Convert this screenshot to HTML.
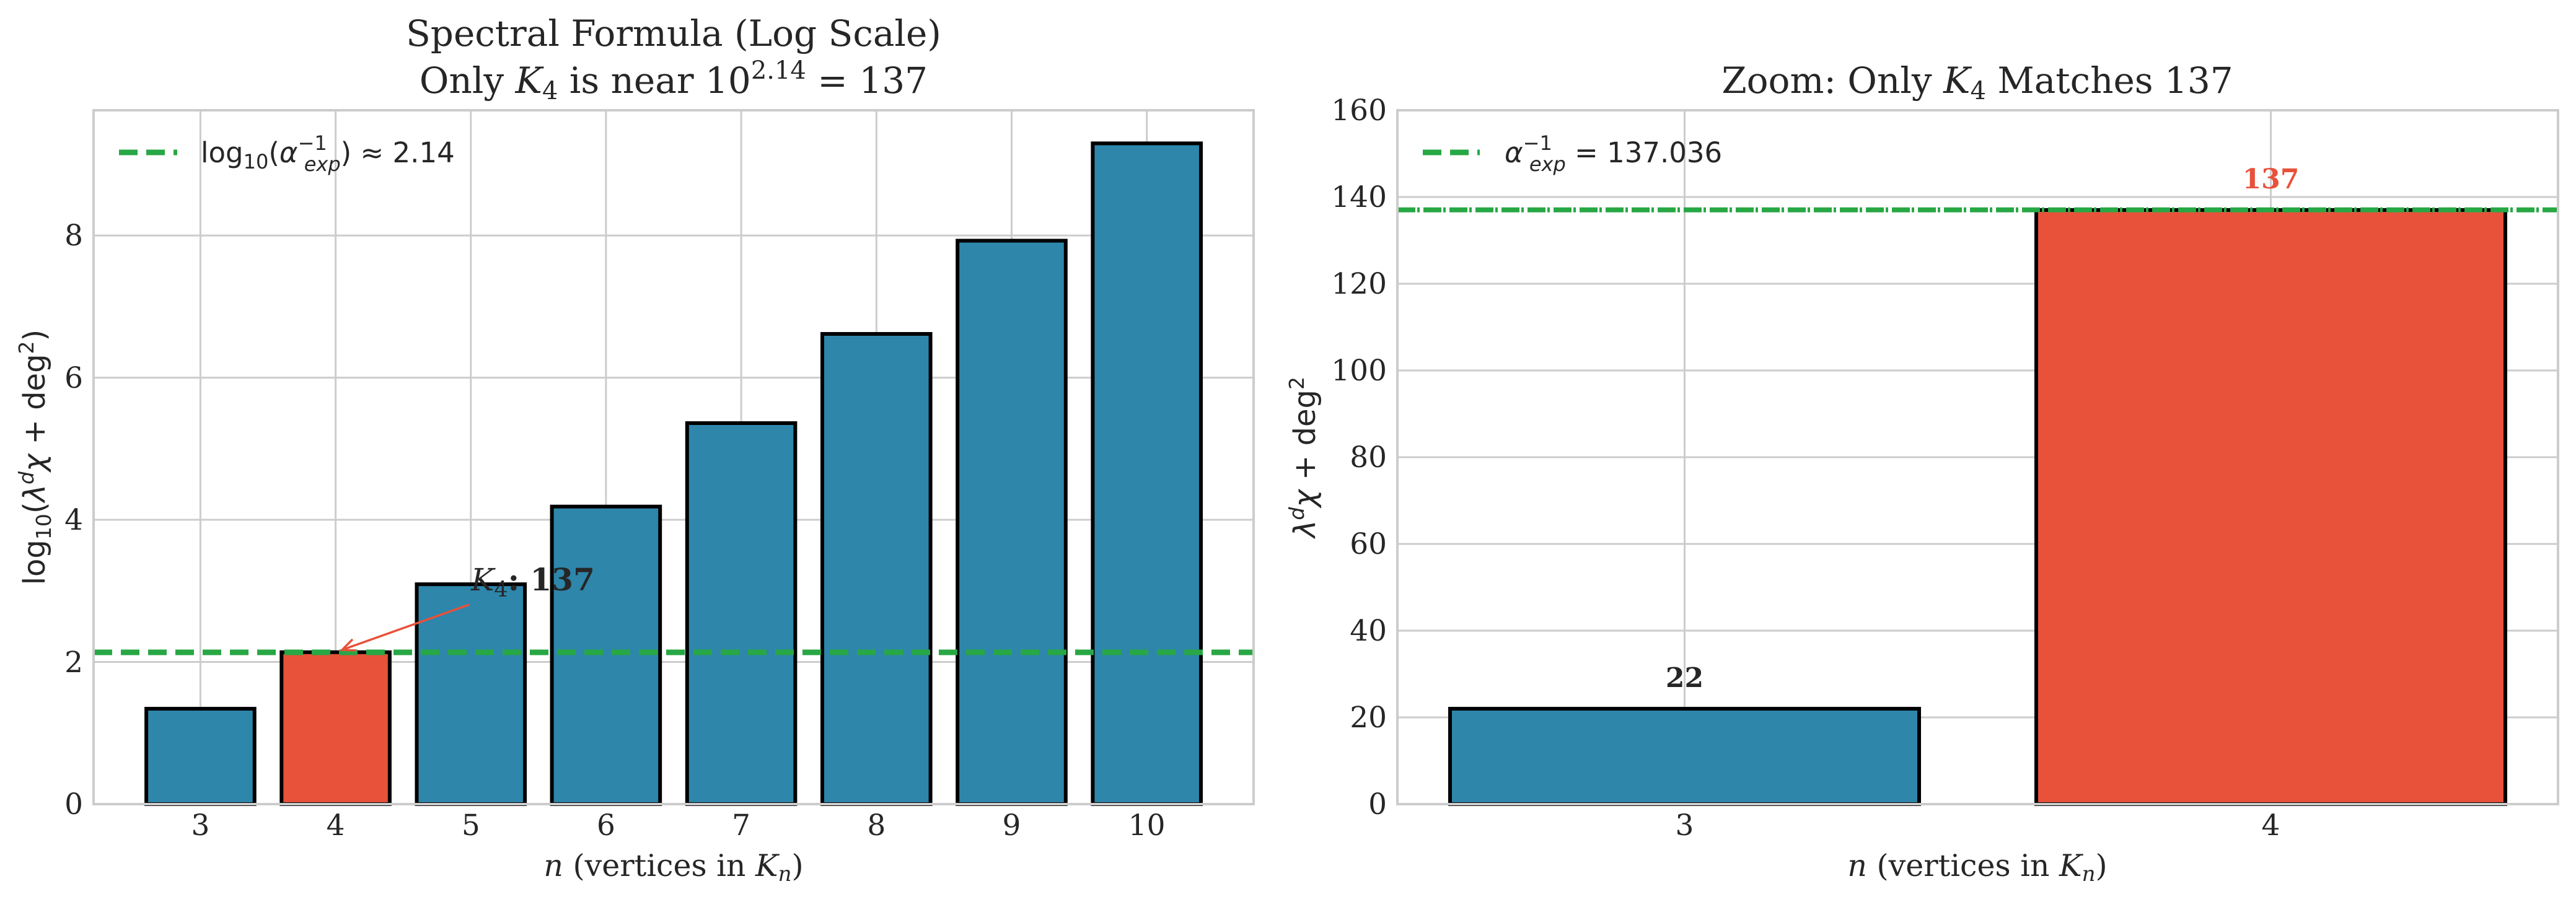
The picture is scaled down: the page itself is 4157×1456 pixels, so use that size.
<!DOCTYPE html>
<html><head><meta charset="utf-8"><style>
html,body{margin:0;padding:0;background:#fff}
svg{display:block}
.s{font-family:"DejaVu Serif","Liberation Serif",serif;fill:#262626}
.m{font-family:"DejaVu Sans","Liberation Sans",sans-serif;fill:#262626}
</style></head><body>
<svg width="4157" height="1456" viewBox="0 0 4157 1456" xmlns="http://www.w3.org/2000/svg">
<rect width="4157" height="1456" fill="#fff"/>
<!-- LEFT AXES -->
<g stroke="#cccccc" stroke-width="3">
<line x1="323.4" y1="178" x2="323.4" y2="1298"/>
<line x1="541.6" y1="178" x2="541.6" y2="1298"/>
<line x1="759.8" y1="178" x2="759.8" y2="1298"/>
<line x1="977.9" y1="178" x2="977.9" y2="1298"/>
<line x1="1196.1" y1="178" x2="1196.1" y2="1298"/>
<line x1="1414.3" y1="178" x2="1414.3" y2="1298"/>
<line x1="1632.5" y1="178" x2="1632.5" y2="1298"/>
<line x1="1850.7" y1="178" x2="1850.7" y2="1298"/>
<line x1="151" y1="1068.5" x2="2023" y2="1068.5"/>
<line x1="151" y1="839" x2="2023" y2="839"/>
<line x1="151" y1="609.6" x2="2023" y2="609.6"/>
<line x1="151" y1="380.1" x2="2023" y2="380.1"/>
</g>
<g stroke="#000" stroke-width="6" fill="#2e86ab">
<rect x="236.1" y="1144" width="174.6" height="154"/>
<rect x="454.3" y="1052.8" width="174.6" height="245.2" fill="#e8513a"/>
<rect x="672.5" y="943.1" width="174.6" height="354.9"/>
<rect x="890.6" y="817.7" width="174.6" height="480.3"/>
<rect x="1108.8" y="683" width="174.6" height="615"/>
<rect x="1327" y="539" width="174.6" height="759"/>
<rect x="1545.2" y="388.5" width="174.6" height="909.5"/>
<rect x="1763.4" y="231.4" width="174.6" height="1066.6"/>
</g>
<line x1="151" y1="1053" x2="2023" y2="1053" stroke="#28a745" stroke-width="9" stroke-dasharray="30 14"/>
<g stroke="#e8513a" stroke-width="3.5" fill="none">
<line x1="757" y1="976" x2="552" y2="1049"/>
<polyline points="569,1032 552,1049 575,1050"/>
</g>
<text class="s" x="760" y="953" font-size="50" font-weight="bold"><tspan font-style="italic" font-weight="normal">K</tspan><tspan font-size="35" dy="10" font-weight="normal">4</tspan><tspan dy="-10">: 137</tspan></text>
<rect x="151" y="178" width="1872" height="1120" fill="none" stroke="#cccccc" stroke-width="4"/>
<line x1="192" y1="246" x2="286" y2="246" stroke="#28a745" stroke-width="9" stroke-dasharray="30 14"/>
<text class="m" x="324" y="262" font-size="45">log<tspan font-size="32" dy="10">10</tspan><tspan dy="-10">(</tspan><tspan font-style="italic">α</tspan><tspan font-size="32" dy="-20">−1</tspan><tspan font-size="32" font-style="italic" dx="-37" dy="34">exp</tspan><tspan dy="-14">) ≈ 2.14</tspan></text>
<g class="s" font-size="47" text-anchor="middle">
<text x="323.4" y="1348">3</text><text x="541.6" y="1348">4</text><text x="759.8" y="1348">5</text><text x="977.9" y="1348">6</text>
<text x="1196.1" y="1348">7</text><text x="1414.3" y="1348">8</text><text x="1632.5" y="1348">9</text><text x="1850.7" y="1348">10</text>
</g>
<g class="s" font-size="47" text-anchor="end">
<text x="134" y="1314">0</text><text x="134" y="1085">2</text><text x="134" y="855">4</text><text x="134" y="626">6</text><text x="134" y="396">8</text>
</g>
<text class="s" x="1087" y="1414" font-size="49" text-anchor="middle"><tspan font-style="italic">n</tspan> (vertices in <tspan font-style="italic">K</tspan><tspan font-size="34" dy="8" font-style="italic">n</tspan><tspan dy="-8">)</tspan></text>
<text class="m" font-size="48" text-anchor="middle" transform="translate(72,738) rotate(-90)">log<tspan font-size="33" dy="10">10</tspan><tspan dy="-10">(</tspan><tspan font-style="italic">λ</tspan><tspan font-size="33" dy="-18" font-style="italic">d</tspan><tspan dy="18" font-style="italic">χ</tspan> + deg<tspan font-size="33" dy="-18">2</tspan><tspan dy="18">)</tspan></text>
<text class="s" x="1087" y="74" font-size="58" text-anchor="middle">Spectral Formula (Log Scale)</text>
<text class="s" x="1087" y="150" font-size="58" text-anchor="middle">Only <tspan font-style="italic">K</tspan><tspan font-size="40" dy="10">4</tspan><tspan dy="-10"> is near 10</tspan><tspan font-size="40" dy="-23">2.14</tspan><tspan dy="23"> = 137</tspan></text>

<!-- RIGHT AXES -->
<g stroke="#cccccc" stroke-width="3">
<line x1="2718.5" y1="178" x2="2718.5" y2="1298"/>
<line x1="3664.5" y1="178" x2="3664.5" y2="1298"/>
<line x1="2255" y1="1158" x2="4128" y2="1158"/>
<line x1="2255" y1="1018" x2="4128" y2="1018"/>
<line x1="2255" y1="878" x2="4128" y2="878"/>
<line x1="2255" y1="738" x2="4128" y2="738"/>
<line x1="2255" y1="598" x2="4128" y2="598"/>
<line x1="2255" y1="458" x2="4128" y2="458"/>
<line x1="2255" y1="318" x2="4128" y2="318"/>
</g>
<g stroke="#000" stroke-width="6">
<rect x="2340" y="1144" width="757" height="154" fill="#2e86ab"/>
<rect x="3286" y="339" width="757" height="959" fill="#e8513a"/>
</g>
<line x1="2255" y1="338.7" x2="4128" y2="338.7" stroke="#28a745" stroke-width="8" stroke-dasharray="29 3 4 6"/>
<rect x="2255" y="178" width="1873" height="1120" fill="none" stroke="#cccccc" stroke-width="4"/>
<text class="s" x="2718.5" y="1109" font-size="44" font-weight="bold" text-anchor="middle">22</text>
<text class="s" x="3664.5" y="304" font-size="44" font-weight="bold" text-anchor="middle" style="fill:#e8513a">137</text>
<line x1="2296" y1="246" x2="2388" y2="246" stroke="#28a745" stroke-width="9" stroke-dasharray="30 14"/>
<text class="m" x="2428" y="262" font-size="45"><tspan font-style="italic">α</tspan><tspan font-size="32" dy="-20">−1</tspan><tspan font-size="32" font-style="italic" dx="-37" dy="34">exp</tspan><tspan dy="-14"> = 137.036</tspan></text>
<g class="s" font-size="47" text-anchor="middle">
<text x="2718.5" y="1348">3</text><text x="3664.5" y="1348">4</text>
</g>
<g class="s" font-size="47" text-anchor="end">
<text x="2238" y="1314">0</text><text x="2238" y="1174">20</text><text x="2238" y="1034">40</text><text x="2238" y="894">60</text>
<text x="2238" y="754">80</text><text x="2238" y="614">100</text><text x="2238" y="474">120</text><text x="2238" y="334">140</text><text x="2238" y="194">160</text>
</g>
<text class="s" x="3191" y="1414" font-size="49" text-anchor="middle"><tspan font-style="italic">n</tspan> (vertices in <tspan font-style="italic">K</tspan><tspan font-size="34" dy="8" font-style="italic">n</tspan><tspan dy="-8">)</tspan></text>
<text class="m" font-size="48" text-anchor="middle" transform="translate(2122,738) rotate(-90)"><tspan font-style="italic">λ</tspan><tspan font-size="33" dy="-18" font-style="italic">d</tspan><tspan dy="18" font-style="italic">χ</tspan> + deg<tspan font-size="33" dy="-18">2</tspan></text>
<text class="s" x="3191" y="150" font-size="58" text-anchor="middle">Zoom: Only <tspan font-style="italic">K</tspan><tspan font-size="40" dy="10">4</tspan><tspan dy="-10"> Matches 137</tspan></text>
</svg>
</body></html>
